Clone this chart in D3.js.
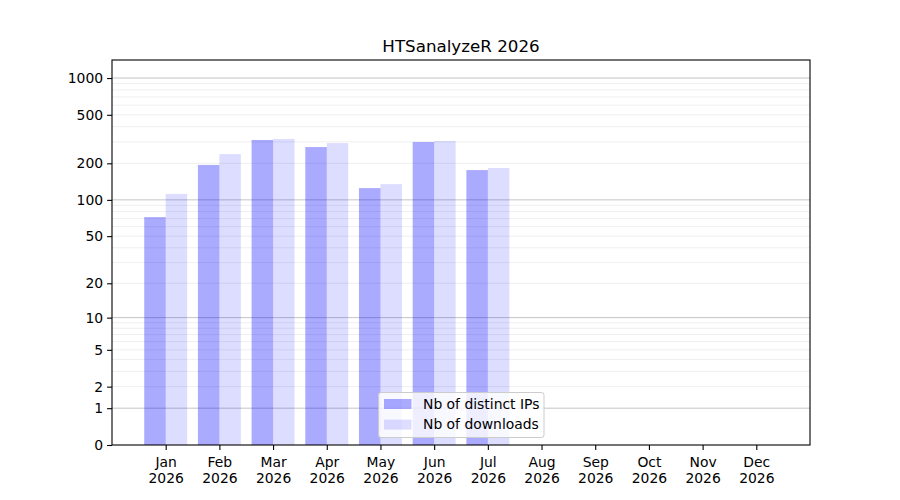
<!DOCTYPE html>
<html>
<head>
<meta charset="utf-8">
<script src="https://cdn.jsdelivr.net/npm/d3@7"></script>
<style>
  body { margin: 0; background: #fff; }
  text { font-family: "DejaVu Sans", sans-serif; }
</style>
</head>
<body>
<div id="container"></div>
<script>
/* DATA */
const title = "HTSanalyzeR 2026";
const months = ["Jan", "Feb", "Mar", "Apr", "May", "Jun", "Jul", "Aug", "Sep", "Oct", "Nov", "Dec"];
const year = "2026";
const distinctIPs = [72, 194, 311, 272, 125, 299, 176];
const downloads = [112, 238, 317, 293, 135, 305, 183];
const yTickValues = [0, 1, 2, 5, 10, 20, 50, 100, 200, 500, 1000];
const seriesNames = ["Nb of distinct IPs", "Nb of downloads"];

/* CONSTANTS */
const width = 900;
const height = 500;
const plotLeft = 112, plotRight = 810, plotTop = 60, plotBottom = 445;
const fontSize = 13.9;

const svg = d3.select("#container")
  .append("svg")
  .attr("width", width)
  .attr("height", height);

// x: month index, with one slot of margin on each side
const xScale = d3.scaleLinear()
  .domain([-1, 12])
  .range([plotLeft, plotRight]);

// y: log10(v + 1)
const logScale = d3.scaleLog()
  .domain([1, 1406])
  .range([plotBottom, plotTop]);
const yScale = v => logScale(v + 1);

const slot = xScale(1) - xScale(0);
const barW = slot * 0.4;

// gridlines
const majorGrid = [1, 10, 100, 1000];
const minorGrid = [];
[1, 10, 100].forEach(dec => {
  for (let k = 2; k <= 9; k++) minorGrid.push(k * dec);
});

svg.append("g")
  .selectAll("line")
  .data(minorGrid)
  .join("line")
  .attr("x1", plotLeft).attr("x2", plotRight)
  .attr("y1", d => yScale(d)).attr("y2", d => yScale(d))
  .attr("stroke", "#ebebeb")
  .attr("stroke-width", 0.8);

svg.append("g")
  .selectAll("line")
  .data(majorGrid)
  .join("line")
  .attr("x1", plotLeft).attr("x2", plotRight)
  .attr("y1", d => yScale(d)).attr("y2", d => yScale(d))
  .attr("stroke", "#c4c4c4")
  .attr("stroke-width", 1);

// bars
svg.append("g")
  .selectAll("rect")
  .data(distinctIPs)
  .join("rect")
  .attr("x", (d, i) => xScale(i) - barW)
  .attr("width", barW)
  .attr("y", d => yScale(d))
  .attr("height", d => plotBottom - yScale(d))
  .attr("fill", "rgb(0,0,255)")
  .attr("fill-opacity", 0.333);

svg.append("g")
  .selectAll("rect")
  .data(downloads)
  .join("rect")
  .attr("x", (d, i) => xScale(i))
  .attr("width", barW)
  .attr("y", d => yScale(d))
  .attr("height", d => plotBottom - yScale(d))
  .attr("fill", "rgb(0,0,255)")
  .attr("fill-opacity", 0.135);

// frame
svg.append("rect")
  .attr("x", plotLeft).attr("y", plotTop)
  .attr("width", plotRight - plotLeft).attr("height", plotBottom - plotTop)
  .attr("fill", "none")
  .attr("stroke", "#000")
  .attr("stroke-width", 1.1);

// axes
const xAxis = svg.append("g")
  .attr("transform", `translate(0,${plotBottom})`)
  .call(d3.axisBottom(xScale)
    .tickValues(d3.range(12))
    .tickSize(4.9)
    .tickPadding(3.5)
    .tickFormat(""));
xAxis.select(".domain").remove();
xAxis.selectAll(".tick line").attr("stroke-width", 1.1);
xAxis.selectAll(".tick text").remove();
xAxis.selectAll(".tick")
  .append("text")
  .attr("fill", "#000")
  .attr("text-anchor", "middle")
  .style("font-size", fontSize + "px")
  .selectAll("tspan")
  .data(d => [months[d], year])
  .join("tspan")
  .attr("x", 0)
  .attr("y", (d, i) => 21.7 + i * 16.2)
  .text(d => d);

const yAxis = svg.append("g")
  .attr("transform", `translate(${plotLeft},0)`)
  .call(d3.axisLeft(logScale)
    .tickValues(yTickValues.map(v => v + 1))
    .tickSize(4.9)
    .tickPadding(4)
    .tickFormat(d => String(Math.round(d - 1))));
yAxis.select(".domain").remove();
yAxis.selectAll(".tick line").attr("stroke-width", 1.1);
yAxis.selectAll(".tick text")
  .attr("fill", "#000")
  .style("font-size", fontSize + "px")
  .style("font-family", "DejaVu Sans, sans-serif");

// title
svg.append("text")
  .attr("x", (plotLeft + plotRight) / 2)
  .attr("y", 52)
  .attr("text-anchor", "middle")
  .style("font-size", "16.7px")
  .text(title);

// legend
const legend = svg.append("g").attr("transform", "translate(378.5,392.5)");
legend.append("rect")
  .attr("width", 165.5).attr("height", 45)
  .attr("rx", 2.5)
  .attr("fill", "#fff").attr("fill-opacity", 0.8)
  .attr("stroke", "#cccccc").attr("stroke-width", 1);

const legendRows = legend.selectAll("g.row")
  .data(seriesNames)
  .join("g")
  .attr("class", "row")
  .attr("transform", (d, i) => `translate(0,${i * 20.6})`);
legendRows.append("rect")
  .attr("x", 5.5).attr("y", 6.5)
  .attr("width", 27.5).attr("height", 10)
  .attr("fill", "rgb(0,0,255)")
  .attr("fill-opacity", (d, i) => i === 0 ? 0.333 : 0.135);
legendRows.append("text")
  .attr("x", 44.5).attr("y", 16.2)
  .style("font-size", fontSize + "px")
  .text(d => d);
</script>
</body>
</html>
